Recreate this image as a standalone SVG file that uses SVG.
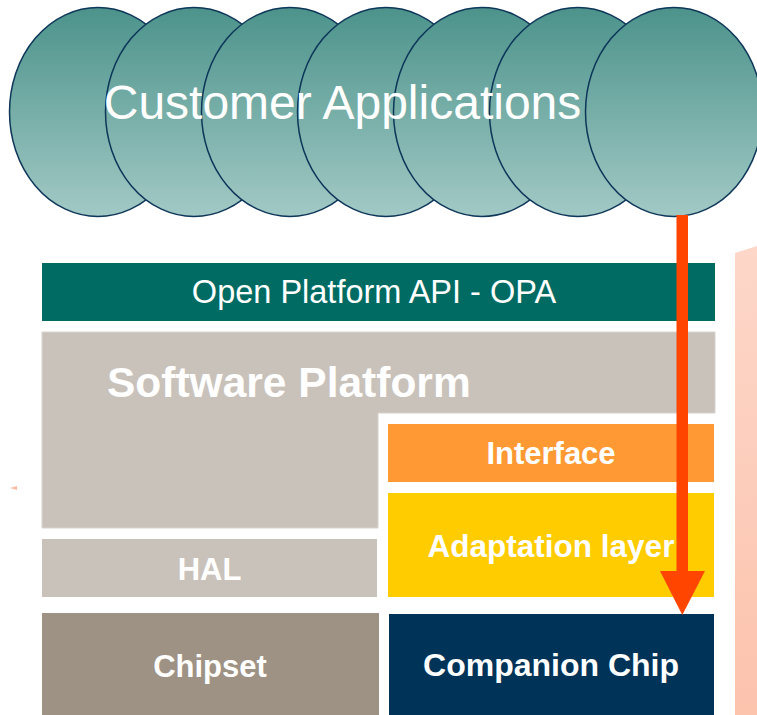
<svg xmlns="http://www.w3.org/2000/svg" width="757" height="715" viewBox="0 0 757 715">
  <defs>
    <linearGradient id="ellGrad" x1="0" y1="0" x2="0" y2="1">
      <stop offset="0" stop-color="#4c938b"/>
      <stop offset="1" stop-color="#a2c9c5"/>
    </linearGradient>
    <linearGradient id="pinkGrad" x1="0" y1="0" x2="0" y2="1">
      <stop offset="0" stop-color="#fdd7c9"/>
      <stop offset="1" stop-color="#fcc3ad"/>
    </linearGradient>
    <style>
      .app { fill: url(#ellGrad); stroke: #0d3659; stroke-width: 1.5; }
      .lbl { font-family: "Liberation Sans", Arial, sans-serif; fill: #ffffff; text-anchor: middle; }
      .bold { font-weight: bold; }
    </style>
  </defs>
  <rect width="757" height="715" fill="#ffffff"/>

  <!-- background decorations -->
  <polygon points="735,253 757,246 757,715 735,715" fill="url(#pinkGrad)"/>
  <polygon points="10,488 17,486 17,490" fill="#fbbca4"/>

  <g id="customer-applications">
    <ellipse class="app" cx="98" cy="112" rx="88.5" ry="104.5"/>
    <ellipse class="app" cx="194" cy="112" rx="88.5" ry="104.5"/>
    <ellipse class="app" cx="290" cy="112" rx="88.5" ry="104.5"/>
    <ellipse class="app" cx="386" cy="112" rx="88.5" ry="104.5"/>
    <ellipse class="app" cx="482" cy="112" rx="88.5" ry="104.5"/>
    <ellipse class="app" cx="578" cy="112" rx="88.5" ry="104.5"/>
    <ellipse class="app" cx="674" cy="112" rx="88.5" ry="104.5"/>
    <text class="lbl" x="342.5" y="119" font-size="48">Customer Applications</text>
  </g>

  <g id="opa">
    <rect x="42" y="263" width="673" height="58" fill="#006b63"/>
    <text class="lbl" x="374" y="303" font-size="32.5">Open Platform API - OPA</text>
  </g>

  <g id="software-platform">
    <polygon points="42,332 715,332 715,413 378,413 378,528 42,528" fill="#c9c2bb" stroke="#d8d3cd" stroke-width="1"/>
    <text class="lbl bold" x="107" y="397" font-size="42.5" style="text-anchor:start">Software Platform</text>
  </g>

  <g id="interface">
    <rect x="388" y="424" width="326" height="58" fill="#ff9933"/>
    <text class="lbl bold" x="551" y="464" font-size="31">Interface</text>
  </g>

  <g id="adaptation-layer">
    <rect x="388" y="493" width="326" height="104" fill="#ffcc00"/>
    <text class="lbl bold" x="551" y="557" font-size="31.5">Adaptation layer</text>
  </g>

  <g id="hal">
    <rect x="42" y="539" width="335" height="58" fill="#c9c2bb"/>
    <text class="lbl bold" x="209.5" y="580" font-size="31">HAL</text>
  </g>

  <g id="chipset">
    <rect x="42" y="613" width="337" height="102" fill="#9e9284"/>
    <text class="lbl bold" x="210" y="677" font-size="31">Chipset</text>
  </g>

  <g id="companion-chip">
    <rect x="389" y="614" width="325" height="101" fill="#003358"/>
    <text class="lbl bold" x="551" y="676" font-size="32">Companion Chip</text>
  </g>

  <g id="connectors">
    <rect x="676.5" y="215" width="11.5" height="357" fill="#ff4500"/>
    <polygon points="660,571 705,571 682.3,615" fill="#ff4500"/>
  </g>
</svg>
